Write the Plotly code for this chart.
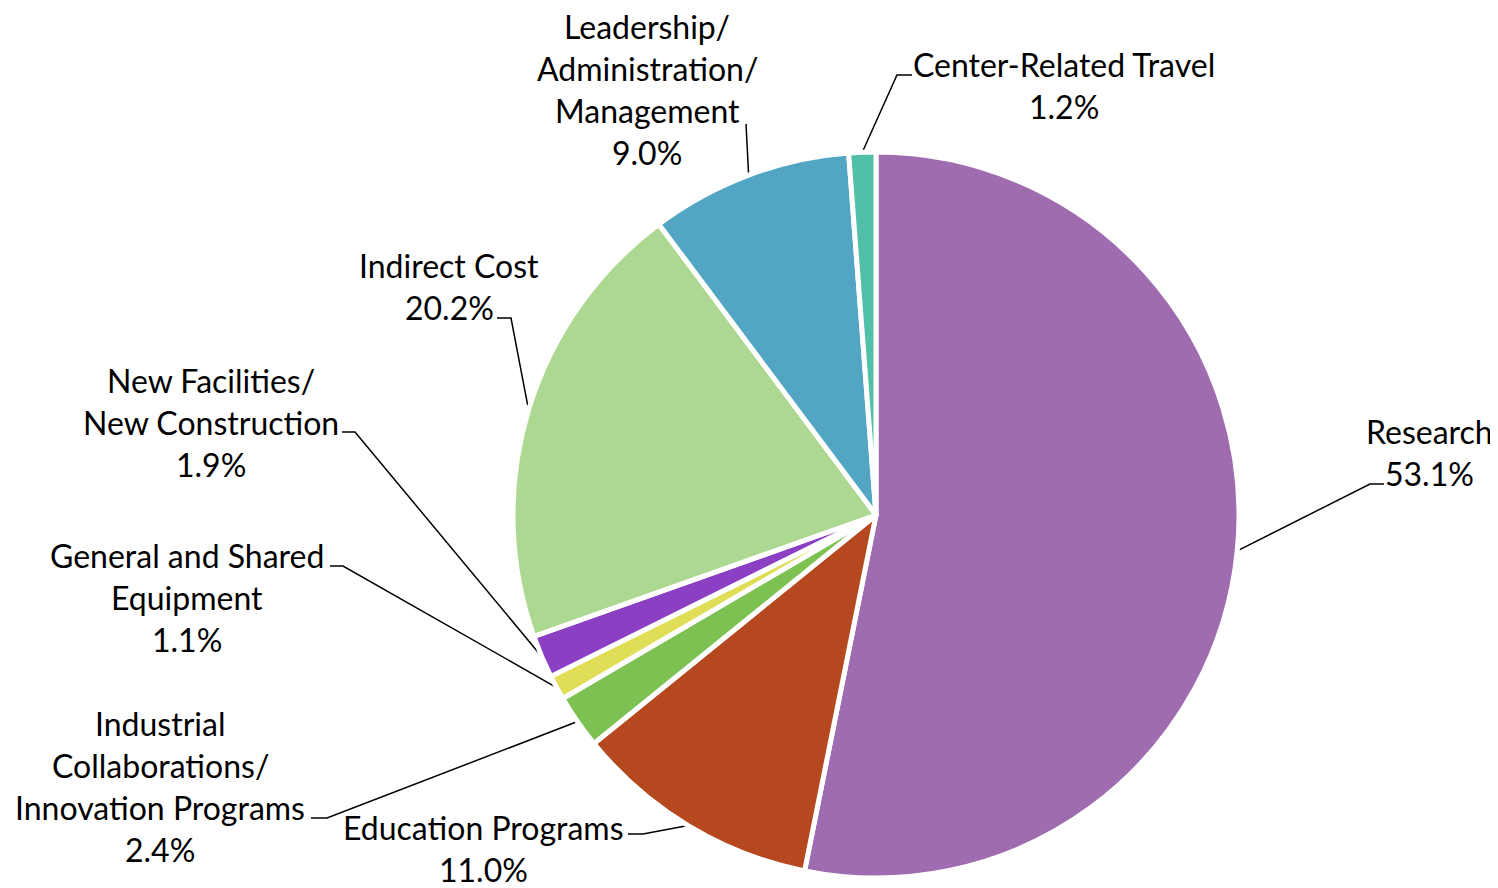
import math
import plotly.graph_objects as go

# ---- data ----
categories = [
    "Research",
    "Education Programs",
    "Industrial Collaborations/ Innovation Programs",
    "General and Shared Equipment",
    "New Facilities/ New Construction",
    "Indirect Cost",
    "Leadership/ Administration/ Management",
    "Center-Related Travel",
]
label_lines = [
    ["Research"],
    ["Education Programs"],
    ["Industrial", "Collaborations/", "Innovation Programs"],
    ["General and Shared", "Equipment"],
    ["New Facilities/", "New Construction"],
    ["Indirect Cost"],
    ["Leadership/", "Administration/", "Management"],
    ["Center-Related Travel"],
]
percent_values = [53.1, 11.0, 2.4, 1.1, 1.9, 20.2, 9.0, 1.2]

colors = ["#A06CB0", "#B5481F", "#7DC152", "#E0DE56", "#8B40C4", "#ADD891", "#52A6C3", "#52C0A8"]

# ---- layout (page pixels) ----
PAGE_W, PAGE_H = 1498, 888
OFF = 8  # default body margin of the html page
W, H = PAGE_W - OFF, PAGE_H - OFF
CX, CY, R = 876, 515, 363
FONT = "Lato"
FS = 32
LINE_H = 42
label_centres = [(1429, 452), (483, 848), (160, 786), (187, 597), (211, 422), (449, 286), (647, 89), (1064, 85)]
leader_bends = [
    [(1370, 484), (1384, 484)],
    [(643, 834), (628, 834)],
    [(327, 818), (311, 818)],
    [(343, 566), (330, 566)],
    [(355, 432), (342, 432)],
    [(511, 318), (497, 318)],
    [(746, 124)],
    [(897, 75), (912, 75)],
]

fig = go.Figure()
fig.add_trace(go.Pie(
    labels=categories,
    values=percent_values,
    sort=False,
    direction="clockwise",
    rotation=0,
    textinfo="none",
    hoverinfo="label+percent",
    marker=dict(colors=colors, line=dict(color="white", width=5)),
    domain=dict(x=[(CX - R - OFF) / W, (CX + R - OFF) / W],
                y=[1 - (CY + R - OFF) / H, 1 - (CY - R - OFF) / H]),
    showlegend=False,
))

total = sum(percent_values)
cum = 0.0
for i, v in enumerate(percent_values):
    mid = (cum + v / 2) / total * 2 * math.pi
    cum += v
    sx = CX + R * math.sin(mid)
    sy = CY - R * math.cos(mid)
    pts = [(sx, sy)] + leader_bends[i]
    fig.add_trace(go.Scatter(
        x=[p[0] for p in pts], y=[p[1] for p in pts], mode="lines",
        line=dict(color="black", width=1.5), hoverinfo="skip", showlegend=False,
        xaxis="x", yaxis="y",
    ))
    lines = label_lines[i] + [f"{v:.1f}%"]
    n = len(lines)
    lx, ly = label_centres[i]
    for k, t in enumerate(lines):
        yy = ly + (k - (n - 1) / 2) * LINE_H
        fig.add_annotation(x=lx, y=yy, xref="x", yref="y", text=t, showarrow=False,
                           xanchor="center", yanchor="middle", borderpad=0,
                           font=dict(family=FONT, size=FS, color="black"))

fig.update_layout(
    width=W, height=H,
    margin=dict(l=0, r=0, t=0, b=0),
    paper_bgcolor="white", plot_bgcolor="rgba(0,0,0,0)",
    xaxis=dict(range=[OFF, PAGE_W], visible=False, domain=[0, 1], fixedrange=True),
    yaxis=dict(range=[PAGE_H, OFF], visible=False, domain=[0, 1], fixedrange=True),
)
fig.write_html("out.html")
